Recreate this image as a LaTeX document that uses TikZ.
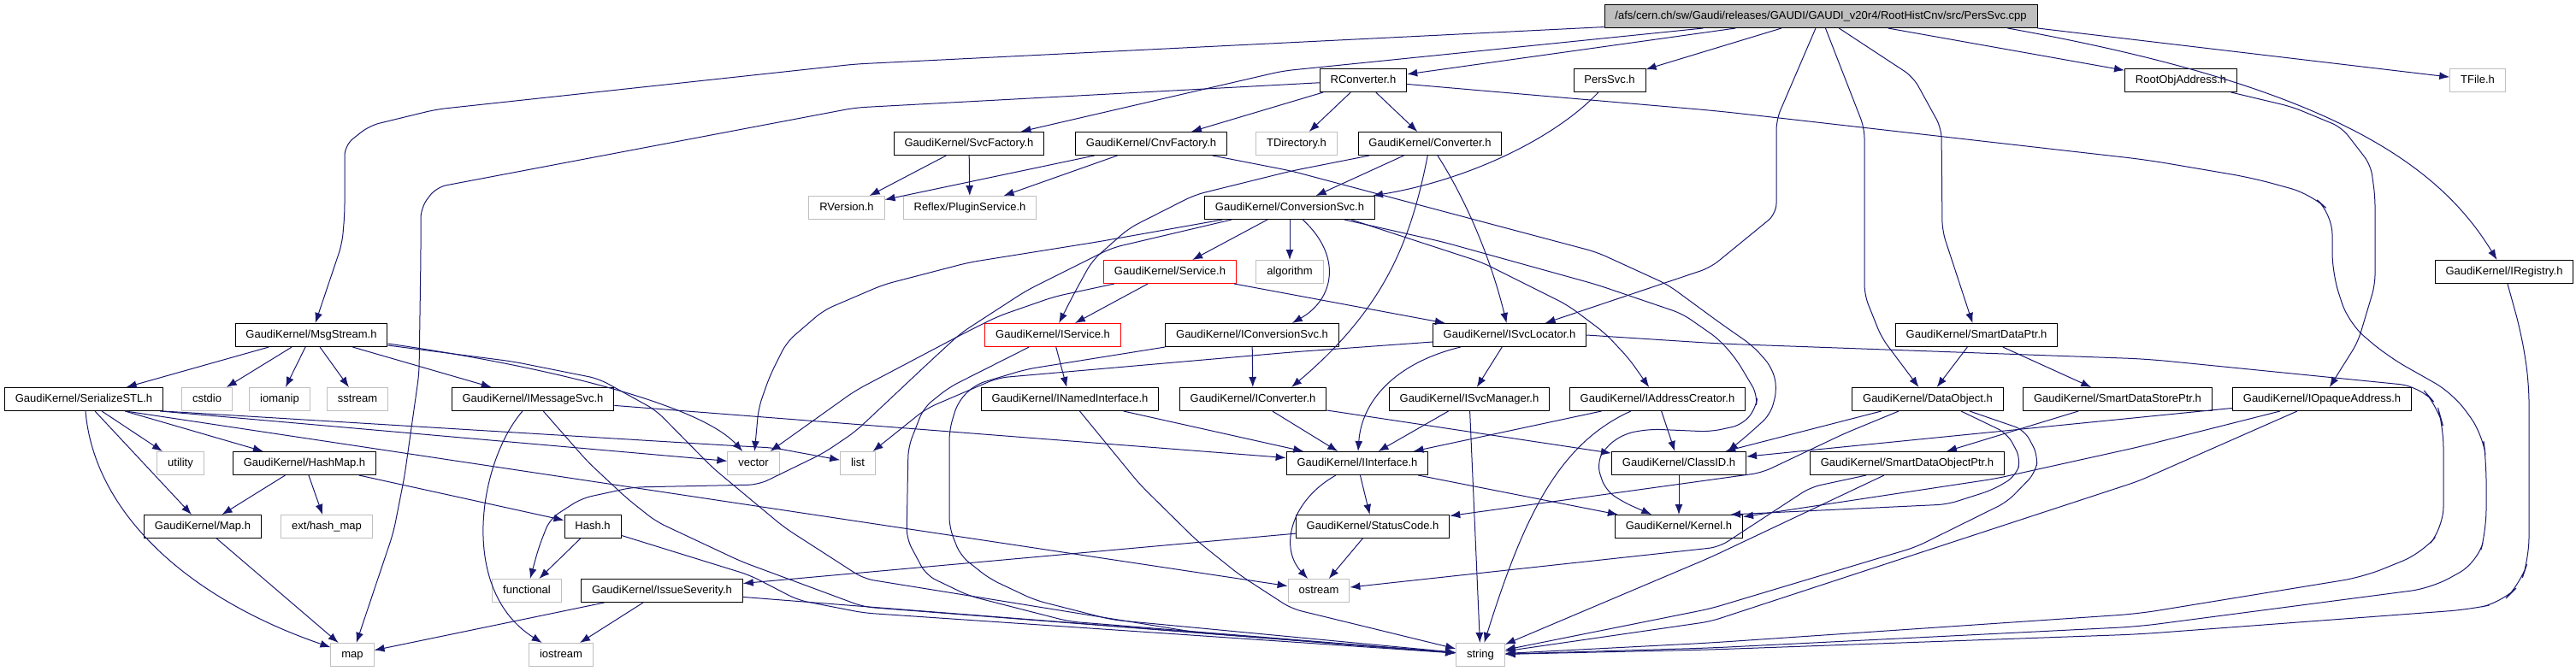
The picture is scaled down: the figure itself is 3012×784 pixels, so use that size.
\documentclass[tikz,border=0pt]{standalone}
\usepackage{fontspec}
\setmainfont{Liberation Sans}
\usepackage{xcolor}
\usepackage{tikz}
\usetikzlibrary{arrows.meta,calc}
\definecolor{edgeblue}{HTML}{191970}
\definecolor{sysgray}{HTML}{BFBFBF}

\begin{document}
\begin{tikzpicture}[
  x=0.5pt, y=-0.5pt,
  font=\fontsize{6.5}{7.8}\selectfont,
  hfile/.style={draw=black,line width=0.5pt,inner xsep=6.2pt,inner ysep=0pt,minimum height=13.5pt,text height=4.8pt,text depth=1.4pt},
  sysfile/.style={hfile,draw=sysgray},
  redfile/.style={hfile,draw=red},
  rootfile/.style={hfile,fill=sysgray},
  dep/.style={draw=edgeblue,line width=0.5pt,-{Latex[length=6pt,width=4.5pt]},rounded corners=6pt}
]
  \useasboundingbox (0,0) rectangle (3012,784);

  \node[rootfile] (root) at (2129,19) {/afs/cern.ch/sw/Gaudi/releases/GAUDI/GAUDI\_v20r4/RootHistCnv/src/PersSvc.cpp};

  \node[hfile] (rconv) at (1594,94) {RConverter.h};
  \node[hfile] (perssvch) at (1882,94) {PersSvc.h};
  \node[hfile] (rootobj) at (2550,94) {RootObjAddress.h};
  \node[sysfile] (tfile) at (2897,94) {TFile.h};

  \node[hfile] (svcfac) at (1133,168) {GaudiKernel/SvcFactory.h};
  \node[hfile] (cnvfac) at (1346,168) {GaudiKernel/CnvFactory.h};
  \node[sysfile] (tdir) at (1516,168) {TDirectory.h};
  \node[hfile] (converter) at (1672,168) {GaudiKernel/Converter.h};

  \node[sysfile] (rversion) at (990,243) {RVersion.h};
  \node[sysfile] (plugin) at (1134,243) {Reflex/PluginService.h};
  \node[hfile] (convsvc) at (1508,243) {GaudiKernel/ConversionSvc.h};

  \node[redfile] (service) at (1368,318) {GaudiKernel/Service.h};
  \node[sysfile] (algorithm) at (1508,318) {algorithm};
  \node[hfile] (iregistry) at (2928,318) {GaudiKernel/IRegistry.h};

  \node[hfile] (msgstream) at (364,392) {GaudiKernel/MsgStream.h};
  \node[redfile] (iservice) at (1231,392) {GaudiKernel/IService.h};
  \node[hfile] (iconvsvc) at (1464,392) {GaudiKernel/IConversionSvc.h};
  \node[hfile] (isvcloc) at (1765,392) {GaudiKernel/ISvcLocator.h};
  \node[hfile] (smartdataptr) at (2311,392) {GaudiKernel/SmartDataPtr.h};

  \node[hfile] (serial) at (98,467) {GaudiKernel/SerializeSTL.h};
  \node[sysfile] (cstdio) at (242,467) {cstdio};
  \node[sysfile] (iomanip) at (327,467) {iomanip};
  \node[sysfile] (sstream) at (418,467) {sstream};
  \node[hfile] (imsgsvc) at (623,467) {GaudiKernel/IMessageSvc.h};
  \node[hfile] (inamed) at (1251,467) {GaudiKernel/INamedInterface.h};
  \node[hfile] (iconverter) at (1465,467) {GaudiKernel/IConverter.h};
  \node[hfile] (isvcmgr) at (1718,467) {GaudiKernel/ISvcManager.h};
  \node[hfile] (iaddr) at (1938,467) {GaudiKernel/IAddressCreator.h};
  \node[hfile] (dataobj) at (2254,467) {GaudiKernel/DataObject.h};
  \node[hfile] (smartstore) at (2476,467) {GaudiKernel/SmartDataStorePtr.h};
  \node[hfile] (iopaque) at (2715,467) {GaudiKernel/IOpaqueAddress.h};

  \node[sysfile] (utility) at (211,542) {utility};
  \node[hfile] (hashmap) at (356,542) {GaudiKernel/HashMap.h};
  \node[sysfile] (vector) at (881,542) {vector};
  \node[sysfile] (list) at (1003,542) {list};
  \node[hfile] (iinterface) at (1587,542) {GaudiKernel/IInterface.h};
  \node[hfile] (classid) at (1963,542) {GaudiKernel/ClassID.h};
  \node[hfile] (smartobj) at (2230,542) {GaudiKernel/SmartDataObjectPtr.h};

  \node[hfile] (maph) at (237,616) {GaudiKernel/Map.h};
  \node[sysfile] (exthash) at (382,616) {ext/hash\_map};
  \node[hfile] (hash) at (693,616) {Hash.h};
  \node[hfile] (statuscode) at (1605,616) {GaudiKernel/StatusCode.h};
  \node[hfile] (kernel) at (1963,616) {GaudiKernel/Kernel.h};

  \node[sysfile] (functional) at (616,691) {functional};
  \node[hfile] (issue) at (774,691) {GaudiKernel/IssueSeverity.h};
  \node[sysfile] (ostream) at (1542,691) {ostream};

  \node[sysfile] (map) at (412,766) {map};
  \node[sysfile] (iostream) at (656,766) {iostream};
  \node[sysfile] (string) at (1731,766) {string};

  \draw[dep] (root) -- (1000,75) -- (510,128) -- (432,147) -- (403,170) -- (403,250) -- (400,285) -- (msgstream);
  \draw[dep] (root) -- (1500,83) -- (svcfac);
  \draw[dep] (root) -- (rconv);
  \draw[dep] (root) -- (perssvch);
  \draw[dep] (root) -- (2077,140) -- (2077,250) -- (2000,313) -- (isvcloc);
  \draw[dep] (root) -- (2180,150) -- (2180,345) -- (2200,395) -- (dataobj);
  \draw[dep] (root) -- (2237,90) -- (2270,150) -- (2271,270) -- (smartdataptr);
  \draw[dep] (root) -- (rootobj);
  \draw[dep] (root.south east) -- (tfile);
  \draw[dep] ($(root.south east)+(-35,0)$) .. controls (2720,100) and (2850,190) .. (iregistry);

  \draw[dep] (rconv) -- (1000,126) -- (510,219) -- (492,243) -- (492,300) -- (490,437) -- (473,557) -- (460,623) -- (map);
  \draw[dep] (rconv) -- (cnvfac);
  \draw[dep] (rconv) -- (tdir);
  \draw[dep] (rconv) -- (converter);
  \draw[dep,rounded corners=12pt] (rconv) -- (2010,130) -- (2510,187) -- (2633,208) -- (2702,227) -- (2727,250) -- (2727,320) -- (2746,378) -- (2792,417) -- (2868,460) -- (2903,508) -- (2907,540) -- (2907,620) -- (2897,658) -- (2843,688) -- (2500,733) -- (2000,758) -- (string);

  \draw[dep] (perssvch) .. controls (1820,160) and (1720,210) .. ($(convsvc.north east)+(-3,0)$);
  \draw[dep] (rootobj) -- (2680,125) -- (2738,149) -- (2772,193) -- (2777,230) -- (2777,333) -- (2757,400) -- (iopaque);

  \draw[dep] (svcfac) -- (rversion);
  \draw[dep] (svcfac) -- (plugin);
  \draw[dep] (cnvfac) -- (rversion);
  \draw[dep] (cnvfac) -- (plugin);
  \draw[dep] (cnvfac) -- (1510,200) -- (1867,295) -- (1950,333) -- (2010,377) -- (2050,405) -- (2072,430) -- (2078,455) -- (2070,485) -- (2040,512) -- ($(classid.north east)+(-22,0)$);

  \draw[dep] (converter) -- (convsvc);
  \draw[dep] (converter) .. controls (1718,240) and (1745,310) .. (isvcloc);
  \draw[dep] (converter) -- (1510,200) -- (1397,228) -- (1320,267) -- (1277,305) -- (1255,345) -- (iservice);
  \draw[dep] (converter) .. controls (1650,280) and (1620,360) .. ($(iconverter.north)+(45,0)$);

  \draw[dep] (convsvc) -- (service);
  \draw[dep] (convsvc) -- (algorithm);
  \draw[dep] (convsvc) .. controls (1570,300) and (1560,350) .. ($(iconvsvc.north east)+(-55,0)$);
  \draw[dep] (convsvc) -- (1283,283) -- (1133,307) -- (1033,333) -- (963,363) -- (920,400) -- (900,440) -- (887,477) -- (vector);
  \draw[dep] ($(convsvc.south)+(-68,0)$) -- (1300,290) -- (1200,340) -- (1123,390) -- (1083,427) -- (1000,505) -- (963,530) -- (887,567) -- (740,570) -- (680,583) -- (643,607) -- (630,640) -- (functional);
  \draw[dep] ($(convsvc.south east)+(-36,0)$) -- (1687,283) -- (1867,333) -- (1967,367) -- (2010,397) -- (2030,420) -- (2055,462) -- (2053,478) -- (2037,497) -- (2000,505) -- (1930,502) -- (1900,507) -- (1877,523) -- (1867,543) -- (1877,573) -- (1897,587) -- (kernel);
  \draw[dep] ($(convsvc.south east)+(-28,0)$) -- (1733,307) -- (1833,357) -- (1877,390) -- (1905,420) -- (iaddr);

  \draw[dep] (service) -- (iservice);
  \draw[dep] (service) -- (isvcloc);
  \draw[dep] (service) -- (1233,347) -- (1167,370) -- (1127,390) -- (1000,457) -- (vector);

  \draw[dep] (iservice) -- (inamed);
  \draw[dep] (iservice) -- (1110,453) -- (1080,477) -- (1062,523) -- (1060,630) -- (1083,673) -- (1133,697) -- (1250,727) -- (string);
  \draw[dep] (iconvsvc) -- (iconverter);
  \draw[dep] (iconvsvc.south west) -- (1200,432) -- (1140,450) -- (1120,470) -- (1110,503) -- (1110,617) -- (1123,650) -- (1157,677) -- (1210,702) -- (1300,725) -- (string);

  \draw[dep] (isvcloc) .. controls (1630,425) and (1592,470) .. (iinterface);
  \draw[dep] (isvcloc) -- (isvcmgr);
  \draw[dep] ($(isvcloc.west)+(0,8)$) -- (1510,412) -- (1167,442) -- (1083,478) -- (list);
  \draw[dep,rounded corners=12pt] (isvcloc.east) -- (2010,402) -- (2510,420) -- (2830,452) -- (2850,475) -- (2857,500) -- (2857,617) -- (2832,647) -- (2763,675) -- (2500,718) -- (2000,752) -- (string);

  \draw[dep] (isvcmgr) -- (iinterface);
  \draw[dep] (isvcmgr) -- (string);
  \draw[dep] (iaddr) -- (iinterface);
  \draw[dep] (iaddr) -- (classid);
  \draw[dep] (iaddr) .. controls (1820,520) and (1780,610) .. (string);

  \draw[dep] (msgstream) -- (serial);
  \draw[dep] (msgstream) -- (cstdio);
  \draw[dep] (msgstream) -- (iomanip);
  \draw[dep] (msgstream) -- (sstream);
  \draw[dep] (msgstream) -- (imsgsvc);
  \draw[dep] ($(msgstream.south east)+(0,-4)$) .. controls (650,430) and (820,475) .. (vector);
  \draw[dep] ($(msgstream.south east)+(0,-2)$) -- (600,423) -- (700,443) -- (767,480) -- (833,547) -- (917,617) -- (1010,677) -- (1400,740) -- (string);

  \draw[dep] (serial) -- (utility);
  \draw[dep] (serial) -- (hashmap);
  \draw[dep] (serial) -- (maph);
  \draw[dep] ($(serial.south)+(2,0)$) .. controls (110,600) and (220,700) .. (map);
  \draw[dep] (serial.south east) -- (850,521) -- (905,524) -- (list);
  \draw[dep] ($(serial.south east)+(-4,0)$) -- (vector);
  \draw[dep] ($(serial.south)+(49,0)$) -- (ostream);

  \draw[dep] (hashmap) -- (maph);
  \draw[dep] (hashmap) -- (exthash);
  \draw[dep] (hashmap) -- (hash);
  \draw[dep] (maph) -- (map);
  \draw[dep] (hash) -- (functional);
  \draw[dep] (hash) -- (877,673) -- (933,702) -- (1010,717) -- (string);

  \draw[dep] (imsgsvc) -- (iinterface);
  \draw[dep] (imsgsvc) .. controls (560,540) and (535,690) .. (iostream);
  \draw[dep] (imsgsvc) -- (687,540) -- (733,583) -- (767,610) -- (867,657) -- (1010,710) -- (string);

  \draw[dep] (issue) -- (map);
  \draw[dep] (issue) -- (iostream);
  \draw[dep] (issue) -- (string);
  \draw[dep] (statuscode) -- (issue);
  \draw[dep] (statuscode) -- (ostream);
  \draw[dep] (iinterface) -- (statuscode);
  \draw[dep] (iinterface) .. controls (1510,585) and (1495,640) .. (ostream);
  \draw[dep] (iinterface) -- (kernel);

  \draw[dep] (inamed) -- (iinterface);
  \draw[dep] (inamed) -- (1333,567) -- (1400,633) -- (1450,673) -- (1510,712) -- (string);
  \draw[dep] (iconverter) -- (iinterface);
  \draw[dep] (iconverter) -- (classid);
  \draw[dep] (classid) -- (kernel);

  \draw[dep] (smartdataptr) -- (dataobj);
  \draw[dep] (smartdataptr) -- (smartstore);
  \draw[dep] (smartstore) -- (smartobj);
  \draw[dep] (dataobj) -- (classid);
  \draw[dep] (dataobj) -- (2157,507) -- (2060,553) -- (statuscode);
  \draw[dep] ($(dataobj.south)+(39,0)$) -- (2347,507) -- (2363,537) -- (2357,557) -- (2330,573) -- (2277,590) -- ($(kernel.north east)+(-15,0)$);
  \draw[dep] ($(dataobj.south)+(49,0)$) -- (2367,503) -- (2383,533) -- (2380,553) -- (2347,587) -- (2240,640) -- (2000,712) -- (string);
  \draw[dep] ($(smartobj.south)+(-48,0)$) -- (2117,570) -- (2010,640) -- (ostream);
  \draw[dep] ($(smartobj.south)+(-27,0)$) -- (2000,652) -- (string);

  \draw[dep] (iopaque) -- (classid);
  \draw[dep] ($(iopaque.south west)+(56,0)$) -- (2500,523) -- (2333,560) -- (kernel);
  \draw[dep] ($(iopaque.south west)+(76,0)$) -- (2500,563) -- (2000,727) -- (string);

  \draw[dep,rounded corners=12pt] (iregistry) -- (2948,390) -- (2957,447) -- (2957,653) -- (2947,683) -- (2925,705) -- (2887,713) -- (2500,742) -- (2000,760) -- (string);
\end{tikzpicture}
\end{document}
